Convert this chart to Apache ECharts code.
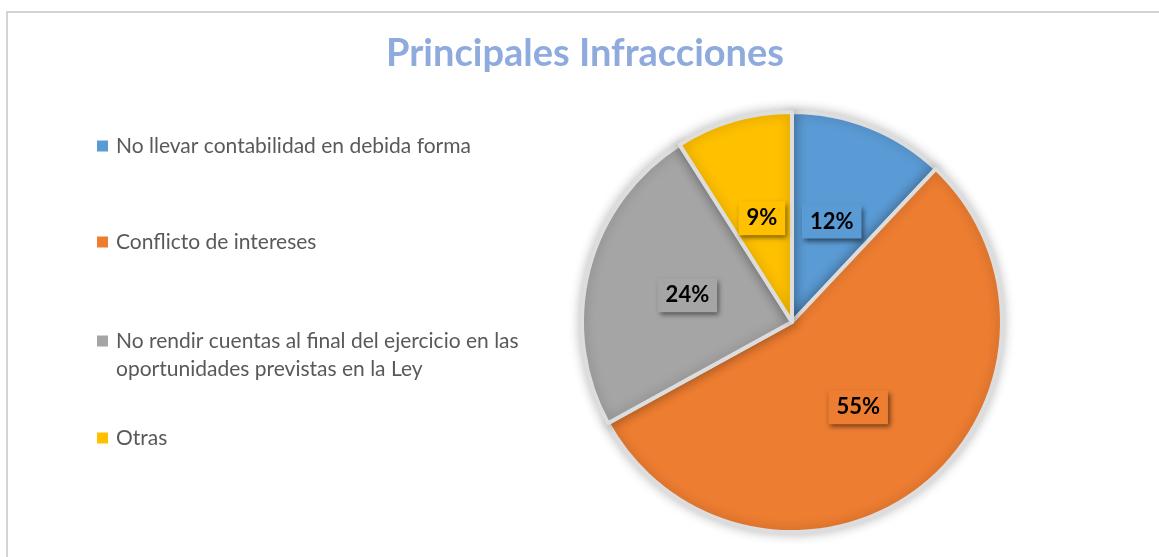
<!DOCTYPE html>
<html>
<head>
<meta charset="utf-8">
<script src="https://cdn.jsdelivr.net/npm/echarts@6/dist/echarts.min.js"></script>
<style>
  html, body { margin: 0; padding: 0; background: #fff; }
  #main { width: 1159px; height: 557px; }
</style>
</head>
<body>
<div id="main"></div>
<script>
var categories = [
    'No llevar contabilidad en debida forma',
    'Conflicto de intereses',
    'No rendir cuentas al final del ejercicio en las\noportunidades previstas en la Ley',
    'Otras'
];
var percentValues = [12, 55, 24, 9];
var sliceColors = ['#5B9BD5', '#ED7D31', '#A5A5A5', '#FFC000'];
var legendTops = [132, 228, 327, 424];

var myChart = echarts.init(document.getElementById('main'));

var pieData = categories.map(function (name, i) {
    return {
        name: name,
        value: percentValues[i],
        itemStyle: { color: sliceColors[i] },
        label: { backgroundColor: sliceColors[i] }
    };
});

// square marker; the two-line entry gets a taller icon so the square sits on its first line
var tallIcon = 'path://M0,0h11v11h-11zM0,38.9h0.1v0.1h-0.1z';

var legends = categories.map(function (name, i) {
    var multi = name.indexOf('\n') >= 0;
    return {
        orient: 'vertical',
        left: 97,
        top: legendTops[i],
        padding: 0,
        icon: multi ? tallIcon : 'rect',
        itemWidth: 11,
        itemHeight: multi ? 39 : 11,
        itemGap: 0,
        selectedMode: false,
        data: [name],
        itemStyle: { borderWidth: 0, shadowBlur: 0 },
        textStyle: {
            fontFamily: 'Lato',
            fontSize: 21,
            color: '#595959',
            lineHeight: 28,
            padding: [0, 0, 0, 3]
        }
    };
});

option = {
    backgroundColor: '#fff',
    graphic: [{
        type: 'rect',
        silent: true,
        shape: { x: 7, y: 12, width: 1200, height: 600 },
        style: { fill: 'none', stroke: '#d4d4d4', lineWidth: 2 }
    }],
    title: {
        text: 'Principales Infracciones',
        left: 580,
        textAlign: 'center',
        top: 30,
        textStyle: {
            fontFamily: 'Lato',
            fontWeight: 'bold',
            fontSize: 38,
            color: '#8FAADC'
        }
    },
    legend: legends,
    series: [
        {
            type: 'pie',
            center: [792, 322],
            radius: 210,
            startAngle: 90,
            clockwise: true,
            silent: true,
            itemStyle: {
                borderColor: '#dddddd',
                borderWidth: 4,
                shadowBlur: 12,
                shadowColor: 'rgba(0,0,0,0.25)'
            },
            label: {
                show: true,
                position: 'inside',
                formatter: '{c}%',
                fontFamily: 'Lato',
                fontWeight: 'bold',
                fontSize: 22,
                color: '#000',
                padding: [6, 8],
                shadowBlur: 5,
                shadowColor: 'rgba(0,0,0,0.55)',
                shadowOffsetX: 2,
                shadowOffsetY: 3
            },
            labelLine: { show: false },
            data: pieData
        }
    ]
};
myChart.setOption(option);
</script>
</body>
</html>
